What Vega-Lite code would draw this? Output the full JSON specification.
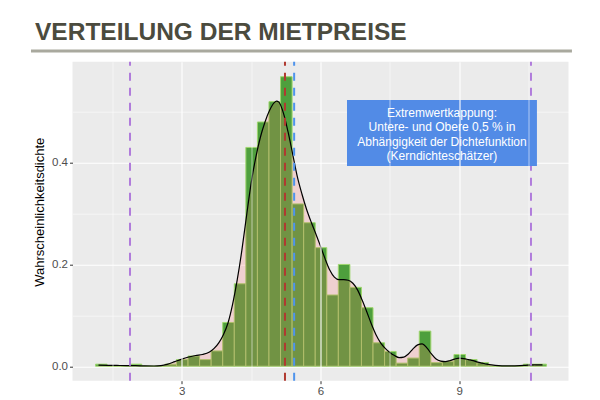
{
  "$schema": "https://vega.github.io/schema/vega-lite/v6.json",
  "width": 496,
  "height": 319,
  "autosize": {"type": "none"},
  "padding": {"left": 72.5, "top": 61.7, "right": 31.5, "bottom": 19.3},
  "background": "white",
  "config": {
    "view": {"fill": "#EBEBEB", "stroke": null},
    "font": "Liberation Sans"
  },
  "title": {
    "text": "VERTEILUNG DER MIETPREISE",
    "anchor": "start",
    "frame": "group",
    "font": "Liberation Sans",
    "fontSize": 24.5,
    "fontWeight": "bold",
    "color": "#4b4b3e",
    "dx": -37.5,
    "offset": 4
  },
  "datasets": {
    "hist": [
      {"lo": 1.125, "hi": 1.375, "d": 0.004},
      {"lo": 1.375, "hi": 1.625, "d": 0},
      {"lo": 1.625, "hi": 1.875, "d": 0},
      {"lo": 1.875, "hi": 2.125, "d": 0.004},
      {"lo": 2.125, "hi": 2.375, "d": 0},
      {"lo": 2.375, "hi": 2.625, "d": 0},
      {"lo": 2.625, "hi": 2.875, "d": 0.004},
      {"lo": 2.875, "hi": 3.125, "d": 0.013},
      {"lo": 3.125, "hi": 3.375, "d": 0.020},
      {"lo": 3.375, "hi": 3.625, "d": 0.013},
      {"lo": 3.625, "hi": 3.875, "d": 0.030},
      {"lo": 3.875, "hi": 4.125, "d": 0.086},
      {"lo": 4.125, "hi": 4.375, "d": 0.162},
      {"lo": 4.375, "hi": 4.625, "d": 0.430},
      {"lo": 4.625, "hi": 4.875, "d": 0.480},
      {"lo": 4.875, "hi": 5.125, "d": 0.520},
      {"lo": 5.125, "hi": 5.375, "d": 0.569},
      {"lo": 5.375, "hi": 5.625, "d": 0.319},
      {"lo": 5.625, "hi": 5.875, "d": 0.282},
      {"lo": 5.875, "hi": 6.125, "d": 0.233},
      {"lo": 6.125, "hi": 6.375, "d": 0.140},
      {"lo": 6.375, "hi": 6.625, "d": 0.200},
      {"lo": 6.625, "hi": 6.875, "d": 0.155},
      {"lo": 6.875, "hi": 7.125, "d": 0.115},
      {"lo": 7.125, "hi": 7.375, "d": 0.046},
      {"lo": 7.375, "hi": 7.625, "d": 0.029},
      {"lo": 7.625, "hi": 7.875, "d": 0.006},
      {"lo": 7.875, "hi": 8.125, "d": 0.016},
      {"lo": 8.125, "hi": 8.375, "d": 0.069},
      {"lo": 8.375, "hi": 8.625, "d": 0.007},
      {"lo": 8.625, "hi": 8.875, "d": 0.009},
      {"lo": 8.875, "hi": 9.125, "d": 0.023},
      {"lo": 9.125, "hi": 9.375, "d": 0.013},
      {"lo": 9.375, "hi": 9.625, "d": 0.007},
      {"lo": 9.625, "hi": 9.875, "d": 0},
      {"lo": 9.875, "hi": 10.125, "d": 0},
      {"lo": 10.125, "hi": 10.375, "d": 0},
      {"lo": 10.375, "hi": 10.625, "d": 0.004},
      {"lo": 10.625, "hi": 10.875, "d": 0.004}
    ],
    "dens": [
      {"x": 1.2, "d": 0.002}, {"x": 1.4, "d": 0.0018}, {"x": 1.6, "d": 0.0015},
      {"x": 1.8, "d": 0.0012}, {"x": 2.0, "d": 0.001}, {"x": 2.2, "d": 0.0006},
      {"x": 2.4, "d": 0.0004}, {"x": 2.55, "d": 0.001}, {"x": 2.7, "d": 0.004},
      {"x": 2.85, "d": 0.009}, {"x": 3.0, "d": 0.014}, {"x": 3.15, "d": 0.018},
      {"x": 3.3, "d": 0.021}, {"x": 3.45, "d": 0.023}, {"x": 3.6, "d": 0.028},
      {"x": 3.7, "d": 0.035}, {"x": 3.8, "d": 0.046}, {"x": 3.9, "d": 0.062},
      {"x": 4.0, "d": 0.085}, {"x": 4.1, "d": 0.122}, {"x": 4.2, "d": 0.170},
      {"x": 4.3, "d": 0.228}, {"x": 4.4, "d": 0.295}, {"x": 4.5, "d": 0.360},
      {"x": 4.6, "d": 0.410}, {"x": 4.7, "d": 0.450}, {"x": 4.8, "d": 0.480},
      {"x": 4.9, "d": 0.503}, {"x": 5.0, "d": 0.518}, {"x": 5.05, "d": 0.521},
      {"x": 5.1, "d": 0.519}, {"x": 5.2, "d": 0.497}, {"x": 5.3, "d": 0.460},
      {"x": 5.4, "d": 0.416}, {"x": 5.5, "d": 0.372}, {"x": 5.6, "d": 0.338},
      {"x": 5.7, "d": 0.308}, {"x": 5.8, "d": 0.283}, {"x": 5.9, "d": 0.260},
      {"x": 6.0, "d": 0.236}, {"x": 6.1, "d": 0.211}, {"x": 6.2, "d": 0.189},
      {"x": 6.3, "d": 0.175}, {"x": 6.4, "d": 0.170}, {"x": 6.5, "d": 0.170},
      {"x": 6.6, "d": 0.169}, {"x": 6.7, "d": 0.163}, {"x": 6.8, "d": 0.150},
      {"x": 6.9, "d": 0.130}, {"x": 7.0, "d": 0.107}, {"x": 7.1, "d": 0.083},
      {"x": 7.2, "d": 0.062}, {"x": 7.3, "d": 0.046}, {"x": 7.4, "d": 0.035},
      {"x": 7.5, "d": 0.027}, {"x": 7.6, "d": 0.021}, {"x": 7.7, "d": 0.017},
      {"x": 7.8, "d": 0.018}, {"x": 7.9, "d": 0.024}, {"x": 8.0, "d": 0.034},
      {"x": 8.1, "d": 0.042}, {"x": 8.2, "d": 0.044}, {"x": 8.3, "d": 0.036},
      {"x": 8.4, "d": 0.024}, {"x": 8.5, "d": 0.014}, {"x": 8.6, "d": 0.010},
      {"x": 8.7, "d": 0.009}, {"x": 8.8, "d": 0.011}, {"x": 8.9, "d": 0.014},
      {"x": 9.0, "d": 0.016}, {"x": 9.1, "d": 0.015}, {"x": 9.2, "d": 0.013},
      {"x": 9.3, "d": 0.011}, {"x": 9.4, "d": 0.008}, {"x": 9.5, "d": 0.006},
      {"x": 9.6, "d": 0.004}, {"x": 9.7, "d": 0.0025}, {"x": 9.85, "d": 0.001},
      {"x": 10.0, "d": 0.0005}, {"x": 10.2, "d": 0.0008}, {"x": 10.4, "d": 0.0015},
      {"x": 10.6, "d": 0.0028}, {"x": 10.8, "d": 0.0025}
    ],
    "vlines": [
      {"v": 1.881, "kind": "Kappung unten"},
      {"v": 5.232, "kind": "Median"},
      {"v": 5.430, "kind": "Mittelwert"},
      {"v": 10.551, "kind": "Kappung oben"}
    ]
  },
  "layer": [
    {
      "data": {"name": "hist"},
      "mark": {"type": "rect", "fill": "#4E9F3D", "stroke": "#9FD66E", "strokeWidth": 1},
      "encoding": {
        "x": {
          "field": "lo", "type": "quantitative", "bin": "binned",
          "scale": {"domain": [0.6375, 11.3625], "nice": false, "zero": false},
          "axis": {
            "values": [1.5, 3, 4.5, 6, 7.5, 9, 10.5],
            "title": null,
            "domain": false,
            "grid": true,
            "gridColor": "white",
            "gridWidth": {"condition": {"test": "datum.value % 3 == 0", "value": 1.1}, "value": 0.55},
            "tickOpacity": {"condition": {"test": "datum.value % 3 == 0", "value": 1}, "value": 0},
            "tickColor": "#333333",
            "tickSize": 3,
            "labelExpr": "datum.value % 3 == 0 ? format(datum.value, 'd') : ''",
            "labelColor": "#4D4D4D",
            "labelFontSize": 11.5,
            "labelPadding": 2,
            "labelFont": "Liberation Sans"
          }
        },
        "x2": {"field": "hi"},
        "y": {
          "field": "d", "type": "quantitative",
          "scale": {"domain": [-0.0285, 0.5985], "nice": false, "zero": false},
          "axis": {
            "values": [0, 0.1, 0.2, 0.3, 0.4, 0.5],
            "title": "Wahrscheinlichkeitsdichte",
            "titleFont": "Liberation Sans",
            "titleFontSize": 13,
            "titleFontWeight": "normal",
            "titleColor": "black",
            "titleAngle": -90,
            "titleAlign": "center",
            "titleBaseline": "middle",
            "titleX": -33,
            "titleY": 150,
            "domain": false,
            "grid": true,
            "gridColor": "white",
            "gridWidth": {"condition": {"test": "abs(datum.value*5 - round(datum.value*5)) < 0.001", "value": 1.1}, "value": 0.55},
            "tickOpacity": {"condition": {"test": "abs(datum.value*5 - round(datum.value*5)) < 0.001", "value": 1}, "value": 0},
            "tickColor": "#333333",
            "tickSize": 3,
            "labelExpr": "abs(datum.value*5 - round(datum.value*5)) < 0.001 ? format(datum.value, '.1f') : ''",
            "labelColor": "#4D4D4D",
            "labelFontSize": 11.5,
            "labelPadding": 2,
            "labelFont": "Liberation Sans"
          }
        },
        "y2": {"datum": 0}
      }
    },
    {
      "data": {"name": "dens"},
      "mark": {"type": "area", "color": "#FF6666", "opacity": 0.2, "interpolate": "monotone"},
      "encoding": {
        "x": {"field": "x", "type": "quantitative"},
        "y": {"field": "d", "type": "quantitative"},
        "y2": {"datum": 0}
      }
    },
    {
      "data": {"name": "dens"},
      "mark": {"type": "line", "color": "black", "strokeWidth": 1.2, "interpolate": "monotone"},
      "encoding": {
        "x": {"field": "x", "type": "quantitative"},
        "y": {"field": "d", "type": "quantitative"}
      }
    },
    {
      "data": {"name": "vlines"},
      "mark": {"type": "rule", "strokeWidth": 2, "strokeDash": [8, 7]},
      "encoding": {
        "x": {"field": "v", "type": "quantitative"},
        "y": {"datum": -0.0285},
        "y2": {"datum": 0.5985},
        "color": {
          "field": "kind", "type": "nominal", "legend": null,
          "scale": {
            "domain": ["Kappung unten", "Median", "Mittelwert", "Kappung oben"],
            "range": ["#B07CDB", "#B03A30", "#4F94EC", "#B07CDB"]
          }
        }
      }
    },
    {
      "data": {"values": [{"label": "Extremwertkappung"}]},
      "mark": {"type": "rect", "fill": "#528BE6"},
      "encoding": {
        "x": {"datum": 6.573},
        "x2": {"datum": 10.68},
        "y": {"datum": 0.523},
        "y2": {"datum": 0.3935}
      }
    },
    {
      "data": {"values": [{"label": "Extremwertkappung"}]},
      "mark": {
        "type": "text",
        "text": ["Extremwertkappung:", "Untere- und Obere 0,5 % in", "Abhängigkeit der Dichtefunktion", "(Kerndichteschätzer)"],
        "color": "white",
        "font": "Liberation Sans",
        "fontSize": 12,
        "lineHeight": 14.5,
        "align": "center",
        "baseline": "middle"
      },
      "encoding": {
        "x": {"datum": 8.626},
        "y": {"datum": 0.4985}
      }
    },
    {
      "data": {"values": [{"label": "underline"}]},
      "mark": {"type": "rule", "color": "#A9A99E", "strokeWidth": 3},
      "encoding": {
        "x": {"datum": -0.26},
        "x2": {"datum": 11.437},
        "y": {"datum": 0.6195}
      }
    }
  ]
}
